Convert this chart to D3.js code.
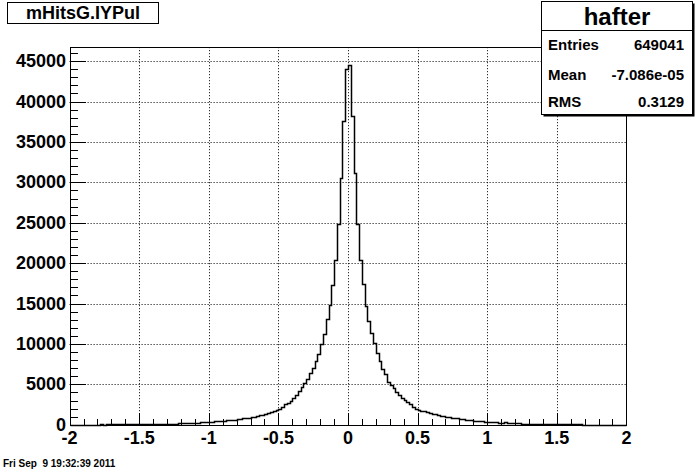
<!DOCTYPE html>
<html>
<head>
<meta charset="utf-8">
<script src="https://cdn.jsdelivr.net/npm/d3@7.9.0/dist/d3.min.js"></script>
<style>
  body { margin: 0; background: #fff; }
  svg { display: block; font-family: "Liberation Sans", Arial, sans-serif; font-weight: bold; }
</style>
</head>
<body>
<svg id="canvas" width="696" height="472"></svg>
<script>
// ---- data ----
const histName = 'mHitsG.IYPul';
const statsTitle = 'hafter';
const statLabels = ['Entries', 'Mean', 'RMS'];
const statValues = ['649041', '-7.086e-05', '0.3129'];
const dateText = 'Fri Sep  9 19:32:39 2011';

const xRange = [-2, 2];
const binWidth = 0.02;
const xTicks = [-2, -1.5, -1, -0.5, 0, 0.5, 1, 1.5, 2];
const yTicks = [0, 5000, 10000, 15000, 20000, 25000, 30000, 35000, 40000, 45000];

// 200 bins, -2 .. 2
const countsLeft = [
  20, 24, 18, 27, 22, 30, 25, 33, 28, 36, 32, 38, 35, 42, 38, 45, 42, 50, 46, 55,
  52, 60, 58, 115, 66, 72, 76, 80, 85, 90, 96, 102, 108, 115, 122, 130, 138, 147, 157, 168,
  180, 192, 205, 220, 236, 252, 270, 290, 312, 335, 360, 385, 412, 440, 470, 502, 535, 570, 608, 648,
  690, 735, 790, 845, 900, 960, 1020, 1090, 1160, 1240, 1320, 1420, 1530, 1650, 1780, 1960,
  2240, 2530, 2730, 2980, 3280, 3690, 4220, 4640, 5130, 5630, 6370, 7070, 7930, 8760,
  10000, 11190, 13090, 14800, 17300, 20400, 24900, 30500, 37600, 44000
];
const countsRight = [
  44500, 38200, 31100, 24900, 20400, 17450, 14700, 12880, 11390, 10080,
  8920, 7890, 6860, 6280, 5330, 4920, 4510, 4100, 3690, 3320, 3070, 2820, 2570, 2240,
  2000, 1880, 1760, 1650, 1550, 1460, 1370, 1290, 1210, 1140, 1070, 1000, 940, 885, 830, 780,
  730, 685, 640, 600, 560, 525, 490, 458, 428, 400, 372, 348, 325, 302, 282, 262, 290, 228, 212, 198,
  184, 172, 160, 150, 140, 130, 122, 114, 106, 100, 93, 87, 82, 76, 72, 67, 62, 120, 55, 52,
  48, 45, 42, 40, 37, 35, 33, 31, 29, 27, 26, 24, 23, 22, 21, 20, 19, 18, 17, 16
];
const counts = countsLeft.concat(countsRight);

// ---- layout ----
const W = 696, H = 472;
const frame = { left: 69.6, right: 626.4, top: 47.2, bottom: 424.8 };
const yMax = 44500 * 1.05;

const svg = d3.select('#canvas');
svg.append('rect').attr('width', W).attr('height', H).attr('fill', '#fff');

const x = d3.scaleLinear().domain(xRange).range([frame.left, frame.right]);
const y = d3.scaleLinear().domain([0, yMax]).range([frame.bottom, frame.top]);

// grid
const grid = svg.append('g')
  .attr('stroke', '#000').attr('stroke-width', 1).attr('stroke-dasharray', '1,2');
grid.selectAll('.gx').data(xTicks.slice(1, -1)).join('line')
  .attr('x1', d => Math.round(x(d)) + 0.5).attr('x2', d => Math.round(x(d)) + 0.5)
  .attr('y1', frame.top).attr('y2', frame.bottom);
grid.selectAll('.gy').data(yTicks.slice(1)).join('line')
  .attr('x1', frame.left).attr('x2', frame.right)
  .attr('y1', d => Math.round(y(d)) + 0.5).attr('y2', d => Math.round(y(d)) + 0.5);

// histogram outline
const pts = [[xRange[0], 0]];
counts.forEach((c, i) => {
  const lo = xRange[0] + i * binWidth;
  pts.push([lo, c], [lo + binWidth, c]);
});
pts.push([xRange[1], 0]);
const line = d3.line().x(d => Math.round(x(d[0])) + 0.5).y(d => Math.round(y(d[1])) + 0.5);
svg.append('path').attr('d', line(pts))
  .attr('fill', 'none').attr('stroke', '#000').attr('stroke-width', 1.5);

// axes ticks
const xMinor = d3.range(-20, 21).map(d => d / 10);
const yMinor = d3.range(0, 47).map(d => d * 1000);

function cleanAxis(g) {
  g.select('.domain').remove();
  g.selectAll('text').remove();
  g.selectAll('line').attr('stroke', '#000').attr('shape-rendering', 'crispEdges');
}
svg.append('g').attr('transform', `translate(0,${frame.bottom})`)
  .call(d3.axisBottom(x).tickValues(xMinor).tickSize(-5.7)).call(cleanAxis);
svg.append('g').attr('transform', `translate(0,${frame.bottom})`)
  .call(d3.axisBottom(x).tickValues(xTicks).tickSize(-11.3)).call(cleanAxis);
svg.append('g').attr('transform', `translate(${frame.left},0)`)
  .call(d3.axisLeft(y).tickValues(yMinor).tickSize(-8.4)).call(cleanAxis);
svg.append('g').attr('transform', `translate(${frame.left},0)`)
  .call(d3.axisLeft(y).tickValues(yTicks).tickSize(-16.7)).call(cleanAxis);

// frame
svg.append('rect')
  .attr('x', Math.round(frame.left) + 0.5).attr('y', Math.round(frame.top) + 0.5)
  .attr('width', Math.round(frame.right) - Math.round(frame.left))
  .attr('height', Math.round(frame.bottom) - Math.round(frame.top))
  .attr('fill', 'none').attr('stroke', '#000');

// tick labels
svg.append('g').selectAll('text').data(xTicks).join('text')
  .attr('x', d => x(d)).attr('y', 444)
  .attr('text-anchor', 'middle').attr('font-size', 18)
  .text(d => d);
svg.append('g').selectAll('text').data(yTicks).join('text')
  .attr('x', 66).attr('y', d => y(d) + 6)
  .attr('text-anchor', 'end').attr('font-size', 18)
  .text(d => d);

// title box
svg.append('rect').attr('x', 7.5).attr('y', 2.5).attr('width', 151).attr('height', 21)
  .attr('fill', '#fff').attr('stroke', '#000');
svg.append('text').attr('x', 83).attr('y', 19).attr('text-anchor', 'middle')
  .attr('font-size', 18).text(histName);

// stats box
const sb = { x: 541.5, y: 1.5, w: 151, h: 113 };
svg.append('rect').attr('x', sb.x + 2).attr('y', sb.y + 2).attr('width', sb.w).attr('height', sb.h)
  .attr('fill', '#000');
svg.append('rect').attr('x', sb.x).attr('y', sb.y).attr('width', sb.w).attr('height', sb.h)
  .attr('fill', '#fff').attr('stroke', '#000');
svg.append('line').attr('x1', sb.x).attr('x2', sb.x + sb.w).attr('y1', 30.5).attr('y2', 30.5)
  .attr('stroke', '#000');
svg.append('text').attr('x', sb.x + sb.w / 2).attr('y', 25).attr('text-anchor', 'middle')
  .attr('font-size', 24).text(statsTitle);
const rowY = [50, 80, 107];
statLabels.forEach((lab, i) => {
  svg.append('text').attr('x', 548).attr('y', rowY[i]).attr('font-size', 15).text(lab);
  svg.append('text').attr('x', 684).attr('y', rowY[i]).attr('text-anchor', 'end')
    .attr('font-size', 15).text(statValues[i]);
});

// date
svg.append('text').attr('x', 3).attr('y', 467).attr('font-size', 10)
  .style('white-space', 'pre').text(dateText);
</script>
</body>
</html>
